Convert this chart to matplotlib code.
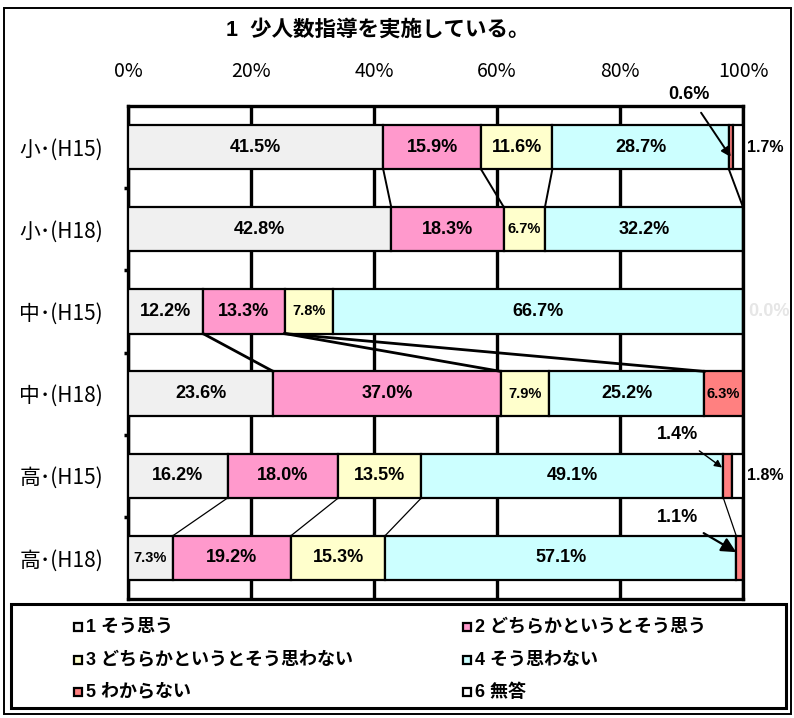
import numpy as np
import matplotlib
matplotlib.use("Agg")
import matplotlib.pyplot as plt
from matplotlib.patches import Rectangle

plt.rcParams['font.family'] = ['Liberation Sans', 'Noto Sans CJK JP', 'DejaVu Sans']
narrow = ['Liberation Sans Narrow', 'Noto Sans CJK JP', 'DejaVu Sans']

# data (percent)
categories = ['小･(H15)', '小･(H18)', '中･(H15)', '中･(H18)', '高･(H15)', '高･(H18)']
s1 = [41.5, 42.8, 12.2, 23.6, 16.2, 7.3]
s2 = [15.9, 18.3, 13.3, 37.0, 18.0, 19.2]
s3 = [11.6, 6.7, 7.8, 7.9, 13.5, 15.3]
s4 = [28.7, 32.2, 66.7, 25.2, 49.1, 57.1]
s5 = [0.6, 0.0, 0.0, 6.3, 1.4, 1.1]
s6 = [1.7, 0.0, 0.0, 0.0, 1.8, 0.0]
series = [s1, s2, s3, s4, s5, s6]
legend_labels = ['1 そう思う', '2 どちらかというとそう思う', '3 どちらかというとそう思わない',
                 '4 そう思わない', '5 わからない', '6 無答']
colors = ['#F0F0F0', '#FF99CC', '#FFFFCC', '#CCFFFF', '#FF8080', '#FFFFFF']
xticks = [0, 20, 40, 60, 80, 100]

# series lines between paired bars: (upper row, [(n segs upper, n segs lower)], lw)
links = [(0, [(1, 1), (2, 2), (3, 3), (4, 4)], 1.4),
         (2, [(1, 1), (2, 2), (2, 4)], 2.0),
         (4, [(1, 1), (2, 2), (3, 3), (4, 4)], 0.9)]

W, H = 794, 718
fig = plt.figure(figsize=(W / 100, H / 100), dpi=100)
ax = fig.add_axes([128 / W, 1 - 599 / H, 615 / W, 493 / H])

y = np.arange(len(categories))
bh = 0.54
left = np.zeros(len(categories))
for vals, c in zip(series, colors):
    vals = np.array(vals)
    ax.barh(y, vals, left=left, height=bh, color=c, edgecolor='black', linewidth=1.6, zorder=3)
    for i, v in enumerate(vals):
        if v >= 5:
            fs = 10.5 if v < 10 else 13
            ax.text(left[i] + v / 2, y[i], f'{v:.1f}%', ha='center', va='center',
                    fontsize=fs, fontweight='bold', zorder=5)
    left = left + vals

cum = np.cumsum(np.array(series), axis=0)
for r, pairs, lw in links:
    for a, b in pairs:
        ax.plot([cum[a - 1][r], cum[b - 1][r + 1]], [r + bh / 2, r + 1 - bh / 2],
                color='black', lw=lw, zorder=4)

# outside labels
ax.text(103.6, 0, '1.7%', ha='center', va='center', fontsize=11.5, fontweight='bold', clip_on=False)
ax.text(103.6, 4, '1.8%', ha='center', va='center', fontsize=11.5, fontweight='bold', clip_on=False)
ax.text(104.2, 2, '0.0%', ha='center', va='center', fontsize=13, fontweight='bold',
        color='#E6E6E6', clip_on=False)
ax.annotate('0.6%', xy=(98.0, 0.12), xytext=(91.2, -0.64), ha='center', va='center',
            fontsize=13, fontweight='bold', annotation_clip=False, zorder=6,
            arrowprops=dict(arrowstyle='-|>', color='black', lw=1.4, mutation_scale=14,
                            shrinkA=6, shrinkB=0))
ax.annotate('1.4%', xy=(96.6, -0.1 + 4), xytext=(89.3, 3.5), ha='center', va='center',
            fontsize=13, fontweight='bold', annotation_clip=False, zorder=6,
            arrowprops=dict(arrowstyle='-|>', color='black', lw=1.0, mutation_scale=11,
                            shrinkA=6, shrinkB=0))
ax.annotate('1.1%', xy=(98.9, 4.93), xytext=(89.3, 4.51), ha='center', va='center',
            fontsize=13, fontweight='bold', annotation_clip=False, zorder=6,
            arrowprops=dict(arrowstyle='-|>', color='black', lw=1.6, mutation_scale=22,
                            shrinkA=6, shrinkB=0))

ax.set_xlim(0, 100)
ax.set_ylim(len(categories) - 0.5, -0.5)
ax.set_xticks(xticks)
ax.set_xticklabels([f'{t}%' for t in xticks], family=narrow, fontsize=14)
ax.xaxis.tick_top()
ax.tick_params(axis='x', length=0, pad=17)
ax.set_yticks(y)
ax.set_yticklabels(categories, family=narrow, fontsize=15)
ax.tick_params(axis='y', length=0, pad=18)
ax.set_yticks(np.arange(0.5, len(categories) - 1, 1), minor=True)
ax.tick_params(axis='y', which='minor', length=3, width=2.5, direction='out')
ax.grid(axis='x', color='black', lw=2.4, zorder=1)
ax.set_axisbelow(True)
for sp in ax.spines.values():
    sp.set_linewidth(2.4)

fig.text(378 / W, 1 - 30 / H, '1  少人数指導を実施している。', ha='center', va='center',
         fontsize=15.5, fontweight='bold')

# legend box
fig.add_artist(Rectangle((11 / W, 1 - 708 / H), 775 / W, 104 / H, transform=fig.transFigure,
                         fill=False, edgecolor='black', lw=2.2))
rows_y = [627, 660, 692]
cols_x = [74, 463]
for k, (lab, c) in enumerate(zip(legend_labels, colors)):
    cx = cols_x[k % 2]
    cy = rows_y[k // 2]
    fig.add_artist(Rectangle((cx / W, 1 - (cy + 4) / H), 8 / W, 8 / H, transform=fig.transFigure,
                             facecolor=c, edgecolor='black', lw=1.6))
    fig.text((cx + 12) / W, 1 - cy / H, lab, ha='left', va='center', fontsize=13, fontweight='bold')

# outer frame
fig.add_artist(Rectangle((4 / W, 1 - 714 / H), 787 / W, 706 / H, transform=fig.transFigure,
                         fill=False, edgecolor='black', lw=1.4))

fig.savefig('out.png', dpi=100)
